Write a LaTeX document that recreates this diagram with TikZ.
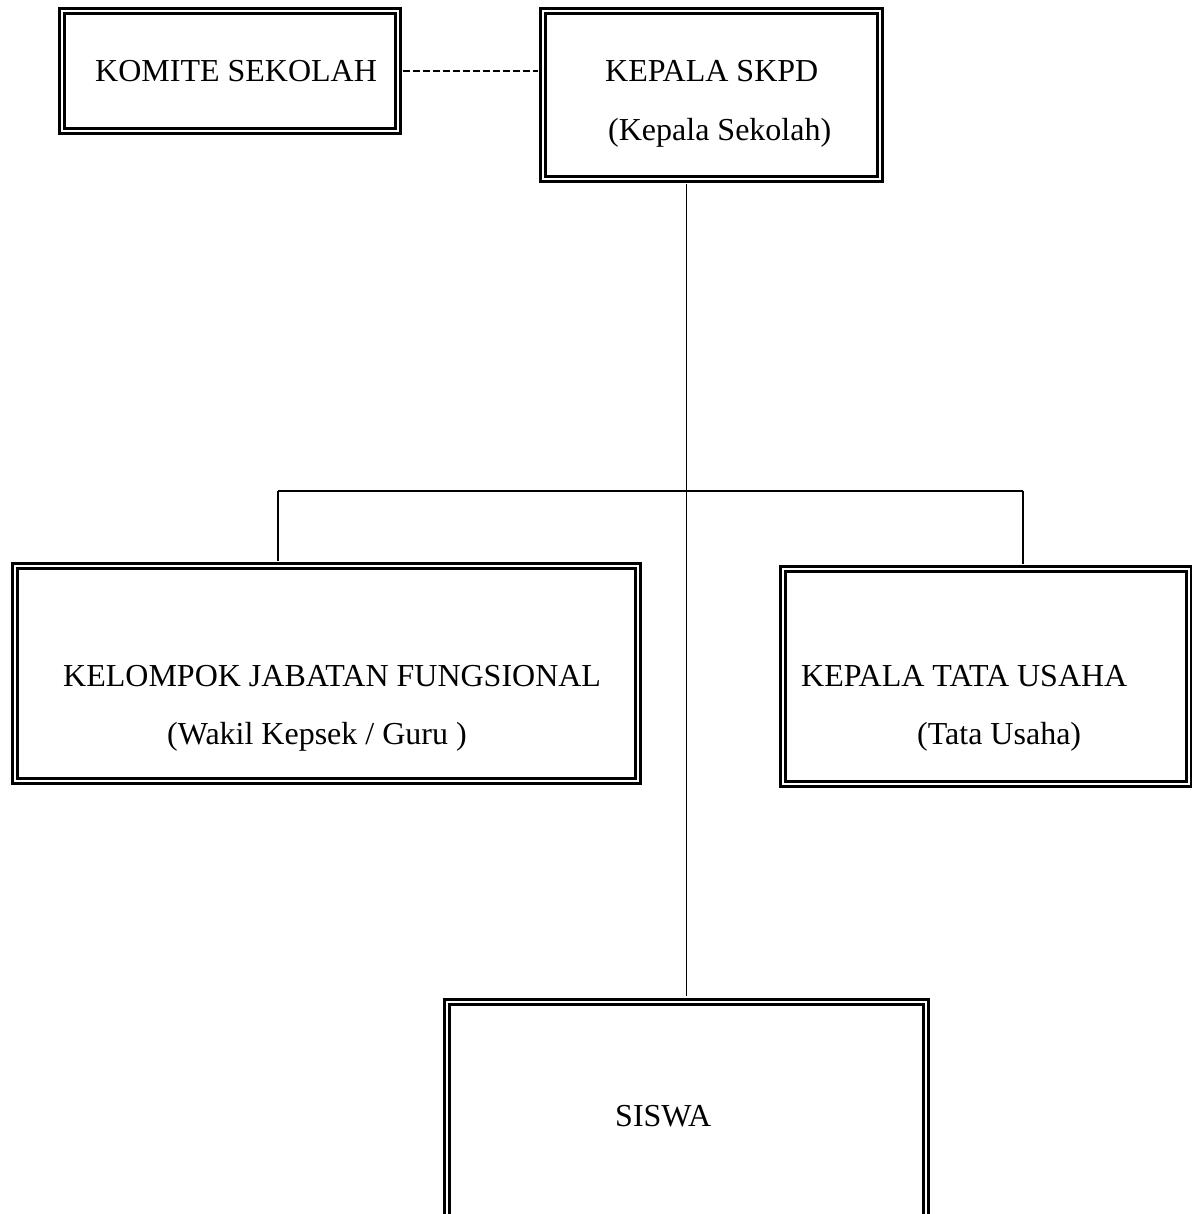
\documentclass[tikz,border=0pt]{standalone}
\usepackage{fontspec}
\setmainfont{Liberation Serif}
\begin{document}
\begin{tikzpicture}[x=1pt,y=-1pt,
  dbox/.style={draw=black, line width=3pt, double=white, double distance=2.4pt, rectangle, inner sep=0pt, fill=none},
  lbl/.style={anchor=base west, inner sep=0pt, font=\fontsize{32}{38}\selectfont},
  conn/.style={line width=1.8pt, shorten <=4.2pt, shorten >=4.2pt},
  dashconn/.style={line width=1.8pt, dash pattern=on 6.5pt off 3.5pt, shorten <=4.2pt, shorten >=4.2pt}]
\useasboundingbox (0,0) rectangle (1191,1214);
% boxes
\node[dbox, minimum width=335.5pt, minimum height=119.5pt] (komite) at (230,71) {};
\node[dbox, minimum width=336.5pt, minimum height=167.5pt] (kepala) at (711.5,95) {};
\node[dbox, minimum width=622.5pt, minimum height=214.5pt] (kjf) at (326.5,673.5) {};
\node[dbox, minimum width=405.5pt, minimum height=214.5pt] (ktu) at (986,676.5) {};
\node[dbox, minimum width=478.5pt, minimum height=228pt] (siswa) at (686.5,1116) {};
% labels
\node[lbl] (tkomite) at (95,82) {KOMITE SEKOLAH};
\node[lbl] (tkepala) at (605,82) {KEPALA SKPD};
\node[lbl] (tkepala2) at (608,141) {(Kepala Sekolah)};
\node[lbl] (tkjf) at (63,686) {KELOMPOK JABATAN FUNGSIONAL};
\node[lbl] (tkjf2) at (167,744) {(Wakil Kepsek / Guru )};
\node[lbl] (tktu) at (801,686) {KEPALA TATA USAHA};
\node[lbl] (tktu2) at (917,744) {(Tata Usaha)};
\node[lbl] (tsiswa) at (615,1126) {SISWA};
% connectors
\coordinate (jl) at (278,491);
\coordinate (jr) at (1023,491);
\draw[dashconn] (komite.east) -- (komite.east -| kepala.west);
\draw[conn] (siswa.north |- kepala.south) -- (siswa.north);
\draw[line width=1.8pt] (jl) -- (jr);
\draw[line width=1.8pt, shorten >=4.2pt] (jl) -- (jl |- kjf.north);
\draw[line width=1.8pt, shorten >=4.2pt] (jr) -- (jr |- ktu.north);
\end{tikzpicture}
\end{document}
